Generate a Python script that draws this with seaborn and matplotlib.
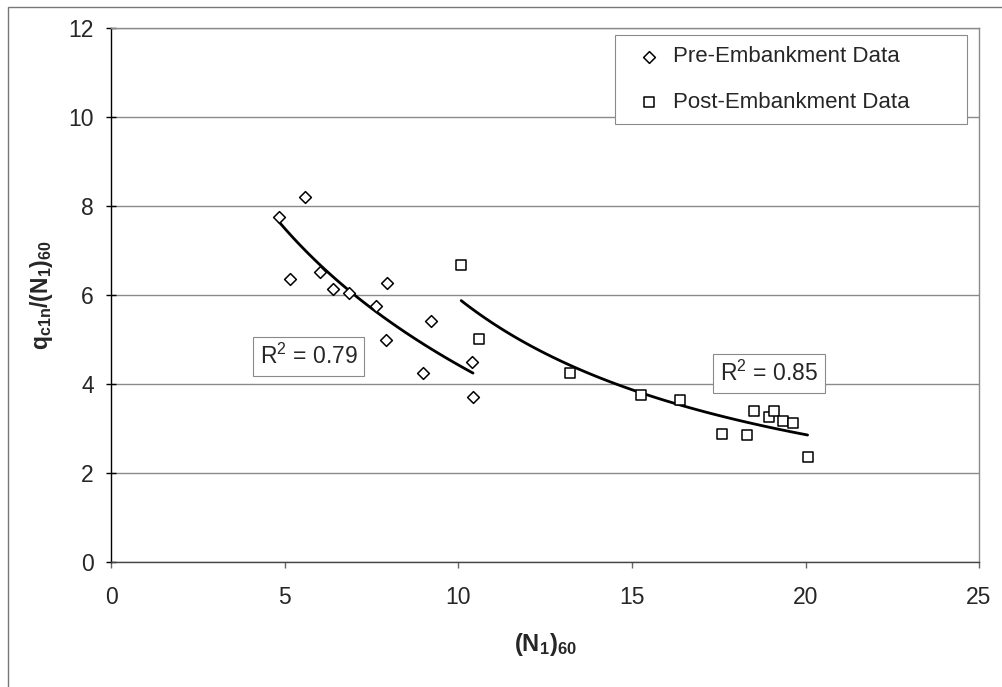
import numpy as np
import pandas as pd
import matplotlib
matplotlib.use("Agg")
import matplotlib.pyplot as plt
from matplotlib.patches import Rectangle
import seaborn as sns

# ---- data ----
pre_x = [4.83, 5.58, 5.14, 6.01, 6.39, 6.86, 7.63, 7.95, 7.91, 9.22, 8.98, 10.40, 10.42]
pre_y = [7.77, 8.22, 6.36, 6.53, 6.14, 6.06, 5.76, 6.27, 5.00, 5.42, 4.25, 4.51, 3.72]
post_x = [10.08, 10.60, 13.22, 15.26, 16.39, 17.58, 18.30, 18.53, 18.95, 19.09, 19.34, 19.65, 20.06]
post_y = [6.67, 5.01, 4.26, 3.77, 3.64, 2.88, 2.85, 3.41, 3.27, 3.41, 3.17, 3.12, 2.37]
series_names = ["Pre-Embankment Data", "Post-Embankment Data"]
r2_labels = ["0.79", "0.85"]
x_ticks = [0, 5, 10, 15, 20, 25]
y_ticks = [0, 2, 4, 6, 8, 10, 12]

sns.set_theme(style="white")
plt.rcParams['font.family'] = ['Liberation Sans', 'DejaVu Sans']
plt.rcParams['mathtext.fontset'] = 'custom'
plt.rcParams['mathtext.rm'] = 'Liberation Sans'
plt.rcParams['mathtext.it'] = 'Liberation Sans:italic'
plt.rcParams['mathtext.bf'] = 'Liberation Sans:bold'

fig = plt.figure(figsize=(10.02, 6.87), dpi=100)
fig.patch.set_facecolor('white')
ax = fig.add_axes([0.1111, 0.1815, 0.866, 0.7773])

# outer chart border
fig.add_artist(Rectangle((0.008, -0.1), 1.2, 1.1 - 7/687, transform=fig.transFigure,
                         fill=False, edgecolor='#777777', lw=1.0))

pre = pd.DataFrame({"x": pre_x, "y": pre_y})
post = pd.DataFrame({"x": post_x, "y": post_y})

# trend lines: logarithmic for pre, power for post (least squares)
def log_fit(xs, ys):
    b, a = np.polyfit(np.log(xs), ys, 1)
    xx = np.linspace(min(xs), max(xs), 100)
    return pd.DataFrame({"x": xx, "y": a + b * np.log(xx)})

def power_fit(xs, ys):
    b, ln_a = np.polyfit(np.log(xs), np.log(ys), 1)
    xx = np.linspace(min(xs), max(xs), 100)
    return pd.DataFrame({"x": xx, "y": np.exp(ln_a) * xx ** b})

sns.lineplot(data=log_fit(pre_x, pre_y), x="x", y="y", ax=ax, color='black', lw=2.0, zorder=3)
sns.lineplot(data=power_fit(post_x, post_y), x="x", y="y", ax=ax, color='black', lw=2.0, zorder=3)

sns.scatterplot(data=pre, x="x", y="y", ax=ax, marker='D', s=36, facecolor='white',
                edgecolor='black', linewidth=1.1, label=series_names[0], zorder=4)
sns.scatterplot(data=post, x="x", y="y", ax=ax, marker='s', s=60, facecolor='white',
                edgecolor='black', linewidth=1.1, label=series_names[1], zorder=4)

ax.set_xlim(0, 25)
ax.set_ylim(0, 12)
ax.set_xticks(x_ticks)
ax.set_yticks(y_ticks)
ax.yaxis.grid(True, color='#8a8a8a', lw=1.0)
ax.xaxis.grid(False)
ax.set_axisbelow(True)

for side in ['top', 'right']:
    ax.spines[side].set_color('#8a8a8a')
    ax.spines[side].set_linewidth(1.0)
ax.spines['left'].set_color('black')
ax.spines['bottom'].set_color('#444444')
ax.spines['left'].set_linewidth(1.0)
ax.spines['bottom'].set_linewidth(1.0)

ax.tick_params(axis='y', direction='inout', length=7, width=1, color='black',
               labelsize=16.5, pad=9, left=True)
ax.tick_params(axis='x', direction='out', length=4, width=1, color='#666666',
               labelsize=16.5, pad=13, bottom=True)

ax.set_xlabel(r'$\mathbf{(N_1)_{60}}$', fontsize=17, labelpad=16)
ax.set_ylabel(r'$\mathbf{q_{c1n}/(N_1)_{60}}$', fontsize=16.5, labelpad=10)

# R^2 labels
box = dict(boxstyle='square,pad=0.3', facecolor='white', edgecolor='#8a8a8a', lw=0.8)
ax.text(5.68, 4.62, r'R$^2$ = ' + r2_labels[0], fontsize=16.5, ha='center', va='center',
        bbox=box, zorder=5)
ax.text(18.95, 4.25, r'R$^2$ = ' + r2_labels[1], fontsize=16.5, ha='center', va='center',
        bbox=box, zorder=5)

leg = ax.legend(loc='upper left', bbox_to_anchor=(0.581, 0.817, 0.405, 0.170), mode='expand',
                borderaxespad=0, fontsize=16, frameon=True, fancybox=False,
                edgecolor='#8a8a8a', framealpha=1, borderpad=0.5, labelspacing=1.1,
                handlelength=2.0, handletextpad=0.1)
leg.get_frame().set_linewidth(0.8)

fig.savefig('out.png', dpi=100, facecolor='white')
